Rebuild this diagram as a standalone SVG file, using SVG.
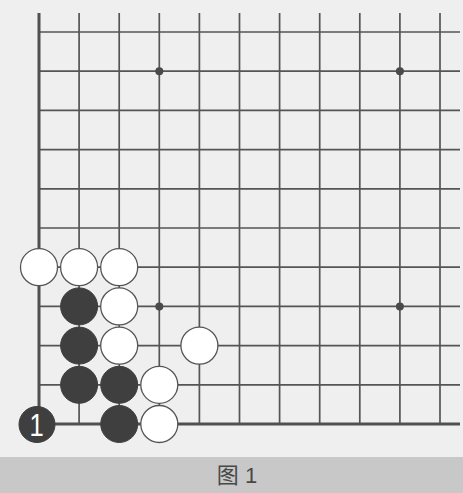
<svg xmlns="http://www.w3.org/2000/svg" width="463" height="493" viewBox="0 0 463 493">
<style>
.g{stroke:#555;stroke-width:1.7;fill:none}
.e{stroke:#505050;stroke-width:3;fill:none}
.w{fill:#fff;stroke:#555;stroke-width:1.3}
.b{fill:#3f3f3f;stroke:#3f3f3f;stroke-width:1}
.s{fill:#4a4a4a}
</style>
<rect width="463" height="493" fill="#efefef"/>
<rect x="0" y="457" width="463" height="36" fill="#c8c8c8"/>
<g id="grid">
<path class="g" d="M79.1 13V424M119.2 13V424M159.3 13V424M199.4 13V424M239.5 13V424M279.6 13V424M319.7 13V424M359.8 13V424M399.9 13V424M440 13V424"/>
<path class="g" d="M39 32H460M39 71.2H460M39 110.4H460M39 149.6H460M39 188.8H460M39 228H460M39 267.2H460M39 306.4H460M39 345.6H460M39 384.8H460"/>
<path class="e" d="M39 13V425.5M37.5 424H460"/>
<circle class="s" cx="159.3" cy="71.2" r="4"/>
<circle class="s" cx="399.9" cy="71.2" r="4"/>
<circle class="s" cx="159.3" cy="306.4" r="4"/>
<circle class="s" cx="399.9" cy="306.4" r="4"/>
</g>
<g id="stones">
<circle id="w1" class="w" cx="39" cy="267.2" r="18.5"/>
<circle id="w2" class="w" cx="79.1" cy="267.2" r="18.5"/>
<circle id="w3" class="w" cx="119.2" cy="267.2" r="18.5"/>
<circle id="b1" class="b" cx="79.1" cy="306.4" r="18.5"/>
<circle id="w4" class="w" cx="119.2" cy="306.4" r="18.5"/>
<circle id="b2" class="b" cx="79.1" cy="345.6" r="18.5"/>
<circle id="w5" class="w" cx="119.2" cy="345.6" r="18.5"/>
<circle id="w6" class="w" cx="199.4" cy="345.6" r="18.5"/>
<circle id="b3" class="b" cx="79.1" cy="384.8" r="18.5"/>
<circle id="b4" class="b" cx="119.2" cy="384.8" r="18.5"/>
<circle id="w7" class="w" cx="159.3" cy="384.8" r="18.5"/>
<g id="b5">
<circle class="b" cx="37" cy="424.5" r="18"/>
<text x="0" y="0" transform="translate(36.5 435.5) scale(0.8 1)" text-anchor="middle" font-family="Liberation Sans, Arial, sans-serif" font-size="32" fill="#fff">1</text>
</g>
<circle id="b6" class="b" cx="119.2" cy="424" r="18.5"/>
<circle id="w8" class="w" cx="159.3" cy="424" r="18.5"/>
</g>
<text x="237" y="482.5" text-anchor="middle" font-family="Liberation Sans, Noto Sans CJK SC, sans-serif" font-size="22" fill="#484848">图 1</text>
</svg>
